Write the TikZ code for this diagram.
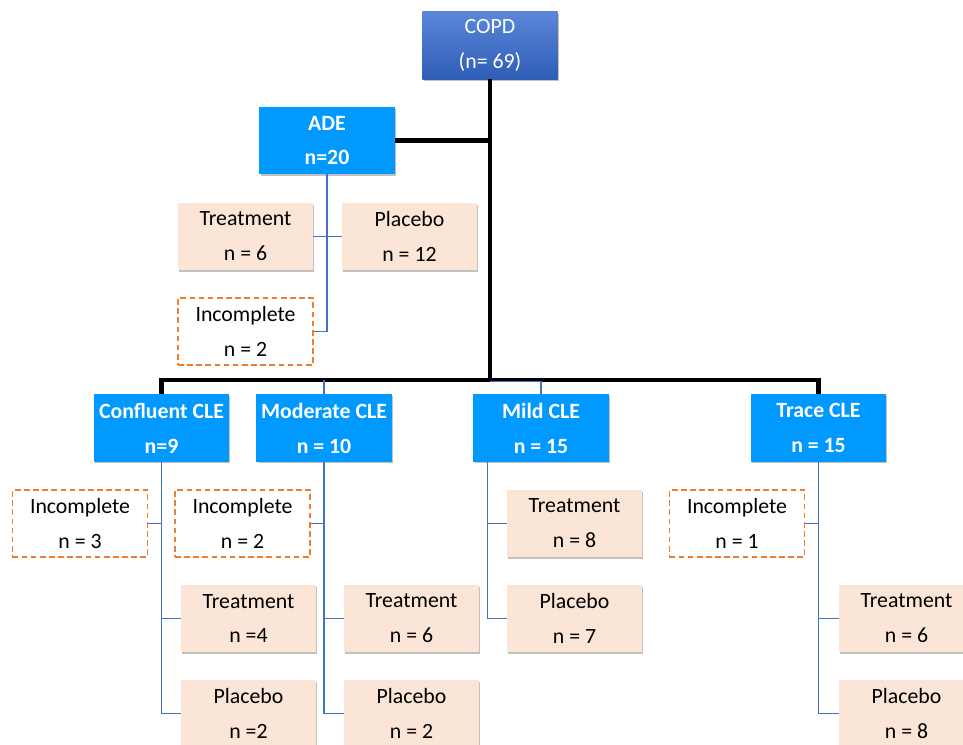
\documentclass[tikz,border=0pt]{standalone}
\usepackage{fontspec}
\setmainfont{Carlito}
\usepackage{tikz}
\usetikzlibrary{shadows}

\definecolor{rootTop}{HTML}{5B86D8}
\definecolor{rootBottom}{HTML}{2F5EB6}
\definecolor{groupBlue}{HTML}{0099FF}
\definecolor{armFill}{HTML}{FBE5D6}
\definecolor{dropLine}{HTML}{ED7D31}
\definecolor{linkBlue}{HTML}{4472C4}

\begin{document}
\begin{tikzpicture}[x=0.025cm, y=-0.025cm,
    every node/.style={font=\fontsize{15.5}{24.8}\selectfont, align=center, inner sep=0pt},
    boxsize/.style={rectangle, minimum width=3.375cm, minimum height=1.675cm},
    softshadow/.style={drop shadow={shadow xshift=0.8pt, shadow yshift=-1.2pt, opacity=0.35, fill=black!70}},
    rootbox/.style={boxsize, top color=rootTop, bottom color=rootBottom, text=white, softshadow},
    groupbox/.style={boxsize, fill=groupBlue, text=white, softshadow, font=\fontsize{15.5}{24.8}\selectfont\bfseries},
    armbox/.style={boxsize, fill=armFill, softshadow},
    dropbox/.style={boxsize, fill=white, draw=dropLine, line width=1.1pt, dash pattern=on 4pt off 2.5pt},
    trunk/.style={line width=3.3pt, black},
    branch/.style={line width=0.9pt, linkBlue}]

    \useasboundingbox (0,0) rectangle (963,745);

    % Nodes for the whole cohort and the ADE group
    \node (copd) [rootbox] at (490,45.5) {COPD\\(n= 69)};
    \node (ade) [groupbox] at (327,140.5) {ADE\\n=20};
    \node (adeT) [armbox] at (245.5,236.5) {Treatment\\n = 6};
    \node (adeP) [armbox] at (409.5,236.5) {Placebo\\n = 12};
    \node (adeI) [dropbox] at (245.5,331.5) {Incomplete\\n = 2};

    % Nodes for the CLE groups
    \node (confluent) [groupbox] at (161.5,428) {Confluent CLE\\n=9};
    \node (moderate) [groupbox] at (324,428) {Moderate CLE\\n = 10};
    \node (mild) [groupbox] at (541,428) {Mild CLE\\n = 15};
    \node (trace) [groupbox] at (818.5,428) {Trace CLE\\n = 15};

    % Nodes for the arms below each CLE group
    \node (confluentI) [dropbox] at (80,523.5) {Incomplete\\n = 3};
    \node (confluentT) [armbox] at (248.5,618.5) {Treatment\\n =4};
    \node (confluentP) [armbox] at (248.5,713.5) {Placebo\\n =2};

    \node (moderateI) [dropbox] at (242.5,523.5) {Incomplete\\n = 2};
    \node (moderateT) [armbox] at (411.5,618.5) {Treatment\\n = 6};
    \node (moderateP) [armbox] at (411.5,713.5) {Placebo\\n = 2};

    \node (mildT) [armbox] at (574.5,523.5) {Treatment\\n = 8};
    \node (mildP) [armbox] at (574.5,618.5) {Placebo\\n = 7};

    \node (traceI) [dropbox] at (737,523.5) {Incomplete\\n = 1};
    \node (traceT) [armbox] at (906.5,618.5) {Treatment\\n = 6};
    \node (traceP) [armbox] at (906.5,713.5) {Placebo\\n = 8};

    % Draw the black trunk
    \coordinate (bar) at (490,380);
    \draw[trunk] (copd.south) -- (bar);
    \draw[trunk] (ade.east) -- (ade.east -| copd.south);
    \draw[trunk] (confluent.north) |- (bar) -| (trace.north);

    % Draw the thin links
    \draw[branch] (moderate.north) -- (moderate.north |- bar);
    \draw[branch] ([yshift=-1.2pt]bar) -| (mild.north);

    \draw[branch] (ade.south) |- (adeI.east);
    \draw[branch] (adeT.east) -- (adeP.west);

    \draw[branch] (confluent.south) |- (confluentP.west);
    \draw[branch] (confluentI.east) -- (confluentI.east -| confluent.south);
    \draw[branch] (confluentT.west) -- (confluentT.west -| confluent.south);

    \draw[branch] (moderate.south) |- (moderateP.west);
    \draw[branch] (moderateI.east) -- (moderateI.east -| moderate.south);
    \draw[branch] (moderateT.west) -- (moderateT.west -| moderate.south);

    \coordinate (mildStem) at ([xshift=10pt]mild.south west);
    \draw[branch] (mildStem) |- (mildP.west);
    \draw[branch] (mildT.west) -- (mildT.west -| mildStem);

    \draw[branch] (trace.south) |- (traceP.west);
    \draw[branch] (traceI.east) -- (traceI.east -| trace.south);
    \draw[branch] (traceT.west) -- (traceT.west -| trace.south);

\end{tikzpicture}
\end{document}
